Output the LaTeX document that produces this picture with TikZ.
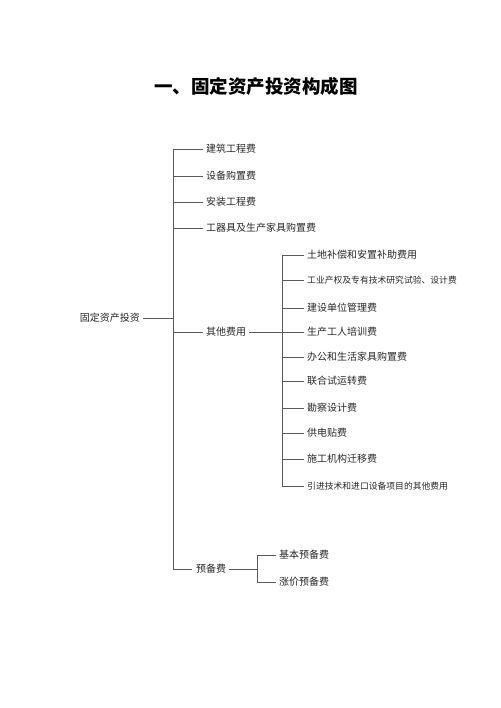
\documentclass[tikz,border=0pt]{standalone}
\usepackage{fontspec}
\newfontfamily\cjk{Noto Sans CJK SC}
\usetikzlibrary{positioning}

\begin{document}
\begin{tikzpicture}
  [x=1pt,y=-1pt,
   every node/.style={font=\cjk\fontsize{10}{12}\selectfont,text=black!85,inner sep=3pt,anchor=west},
   small/.style={font=\cjk\fontsize{8.8}{10}\selectfont},
   link/.style={draw=black!65,line width=0.6pt}]
  \useasboundingbox (0,0) rectangle (500,708);

  \node[anchor=center,font=\cjk\bfseries\fontsize{18.5}{22}\selectfont,text=black] (title) at (256,86) {一、固定资产投资构成图};

  \node[anchor=east] (root) at (143,318) {固定资产投资};
  \coordinate (trunk) at (173,0);
  \coordinate (branch) at (282,0);
  \coordinate (fork) at (257,0);

  % first level
  \node (c1) at (203,149) {建筑工程费};
  \node (c2) at (203,176) {设备购置费};
  \node (c3) at (203,202) {安装工程费};
  \node (c4) at (203,228) {工器具及生产家具购置费};
  \node (other) at (203,332) {其他费用};
  \node (reserve) at (193,569) {预备费};

  % other costs
  \node (o1)  at (304,255) {土地补偿和安置补助费用};
  \node[small] (o2)  at (304,280) {工业产权及专有技术研究试验、设计费};
  \node (o3)  at (304,308) {建设单位管理费};
  \node (o4)  at (304,332) {生产工人培训费};
  \node (o5)  at (304,357) {办公和生活家具购置费};
  \node (o6)  at (304,381) {联合试运转费};
  \node (o7)  at (304,408) {勘察设计费};
  \node (o8)  at (304,433) {供电贴费};
  \node (o9)  at (304,459) {施工机构迁移费};
  \node[small] (o10) at (304,486) {引进技术和进口设备项目的其他费用};

  % reserve costs
  \node (r1) at (276,555) {基本预备费};
  \node (r2) at (276,582) {涨价预备费};

  \draw[link] (root.east) -- (root.east -| trunk);
  \draw[link] (c1.west -| trunk) -- (reserve.west -| trunk);
  \foreach \to in {c1,c2,c3,c4,other}
    \draw[link] (\to.west -| trunk) -- (\to.west);
  \draw[link] (trunk |- reserve.west) -- ([xshift=-1pt]reserve.west);

  \draw[link] (other.east) -- (other.east -| branch);
  \draw[link] (o1.west -| branch) -- (o10.west -| branch);
  \foreach \to in {o1,o2,o3,o4,o5,o6,o7,o8,o9,o10}
    \draw[link] (\to.west -| branch) -- (\to.west);

  \draw[link] (reserve.east) -- (reserve.east -| fork);
  \draw[link] (r1.west -| fork) -- (r2.west -| fork);
  \foreach \to in {r1,r2}
    \draw[link] (\to.west -| fork) -- (\to.west);

\end{tikzpicture}
\end{document}
